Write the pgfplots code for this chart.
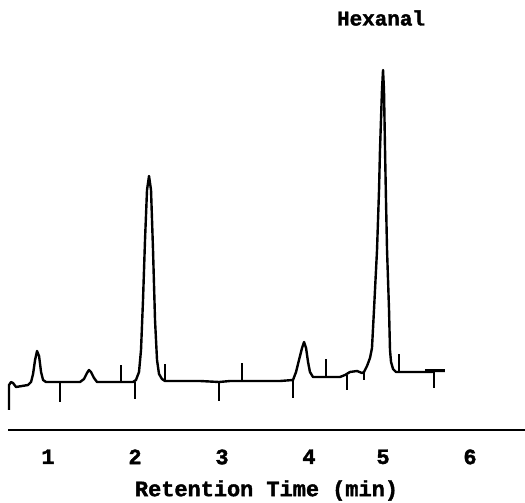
\documentclass[border=0pt]{standalone}
\usepackage{pgfplots}
\pgfplotsset{compat=1.18}
\usepackage{fontspec}
\setmainfont{Liberation Mono}[BoldFeatures={FakeBold=1.8}]
\begin{document}
\begin{tikzpicture}
\path[use as bounding box] (0,0) rectangle (525bp,503bp);
\begin{axis}[
  at={(8bp,73bp)}, anchor=south west,
  scale only axis, width=517bp, height=430bp,
  xmin=0.540, xmax=6.483, ymin=0, ymax=430,
  axis x line*=bottom, hide y axis,
  x axis line style={-, line width=1.6bp},
  major tick length=0pt,
  xtick={1,2,3,4,4.851,5.851},
  xticklabels={1,2,3,4,5,6},
  xticklabel style={font=\fontsize{22}{26}\selectfont\bfseries, yshift=-16bp},
  /pgf/number format/assume math mode=true,
  xlabel={Retention Time (min)},
  xlabel style={font=\fontsize{22}{26}\selectfont\bfseries, yshift=-9bp},
  clip=false,
]
\addplot[black, line width=2.4bp, line join=round] coordinates {
(0.552,20) (0.552,45) (0.575,48) (0.598,47) (0.632,43) (0.701,44) (0.770,45)
(0.805,48) (0.828,56) (0.851,70) (0.874,79) (0.897,74) (0.920,58) (0.943,50)
(0.977,48) (1.138,48) (1.368,48) (1.414,51) (1.448,57) (1.471,60) (1.494,58)
(1.529,52) (1.563,48) (1.839,48) (1.977,48) (2.011,50) (2.046,58) (2.069,80)
(2.092,130) (2.115,190) (2.138,240) (2.161,254) (2.184,240) (2.207,180)
(2.230,110) (2.253,70) (2.276,56) (2.310,51) (2.345,49) (2.747,49) (2.966,48)
(3.092,49) (3.667,49) (3.816,50) (3.851,58) (3.885,70) (3.920,82) (3.943,88)
(3.966,82) (3.989,68) (4.011,58) (4.046,53) (4.356,53) (4.414,55) (4.471,58)
(4.552,59) (4.609,57) (4.632,58) (4.667,64) (4.701,72) (4.724,82) (4.747,120)
(4.782,180) (4.805,240) (4.816,280) (4.839,340) (4.851,360) (4.862,340)
(4.874,280) (4.885,230) (4.897,180) (4.920,120) (4.931,80) (4.943,68)
(4.966,61) (5.000,58) (5.276,58) (5.414,58) (5.437,59) (5.563,59)
};
% integrator marks
\addplot[black, line width=1.6bp] coordinates {(1.138,28) (1.138,48)};
\addplot[black, line width=1.6bp] coordinates {(1.839,48) (1.839,65)};
\addplot[black, line width=1.6bp] coordinates {(2.000,31) (2.000,48)};
\addplot[black, line width=1.6bp] coordinates {(2.345,49) (2.345,66)};
\addplot[black, line width=1.6bp] coordinates {(2.966,29) (2.966,48)};
\addplot[black, line width=1.6bp] coordinates {(3.230,49) (3.230,67)};
\addplot[black, line width=1.6bp] coordinates {(3.816,32) (3.816,50)};
\addplot[black, line width=1.6bp] coordinates {(4.195,53) (4.195,71)};
\addplot[black, line width=1.6bp] coordinates {(4.437,40) (4.437,55)};
\addplot[black, line width=1.6bp] coordinates {(4.632,50) (4.632,58)};
\addplot[black, line width=1.6bp] coordinates {(5.034,58) (5.034,76)};
\addplot[black, line width=1.6bp] coordinates {(5.437,42) (5.437,60)};
\addplot[black, line width=1.6bp] coordinates {(5.333,60) (5.563,60)};
\node[font=\fontsize{21}{25}\selectfont\bfseries] at (axis cs:4.828,412) {Hexanal};
\end{axis}
\end{tikzpicture}
\end{document}
